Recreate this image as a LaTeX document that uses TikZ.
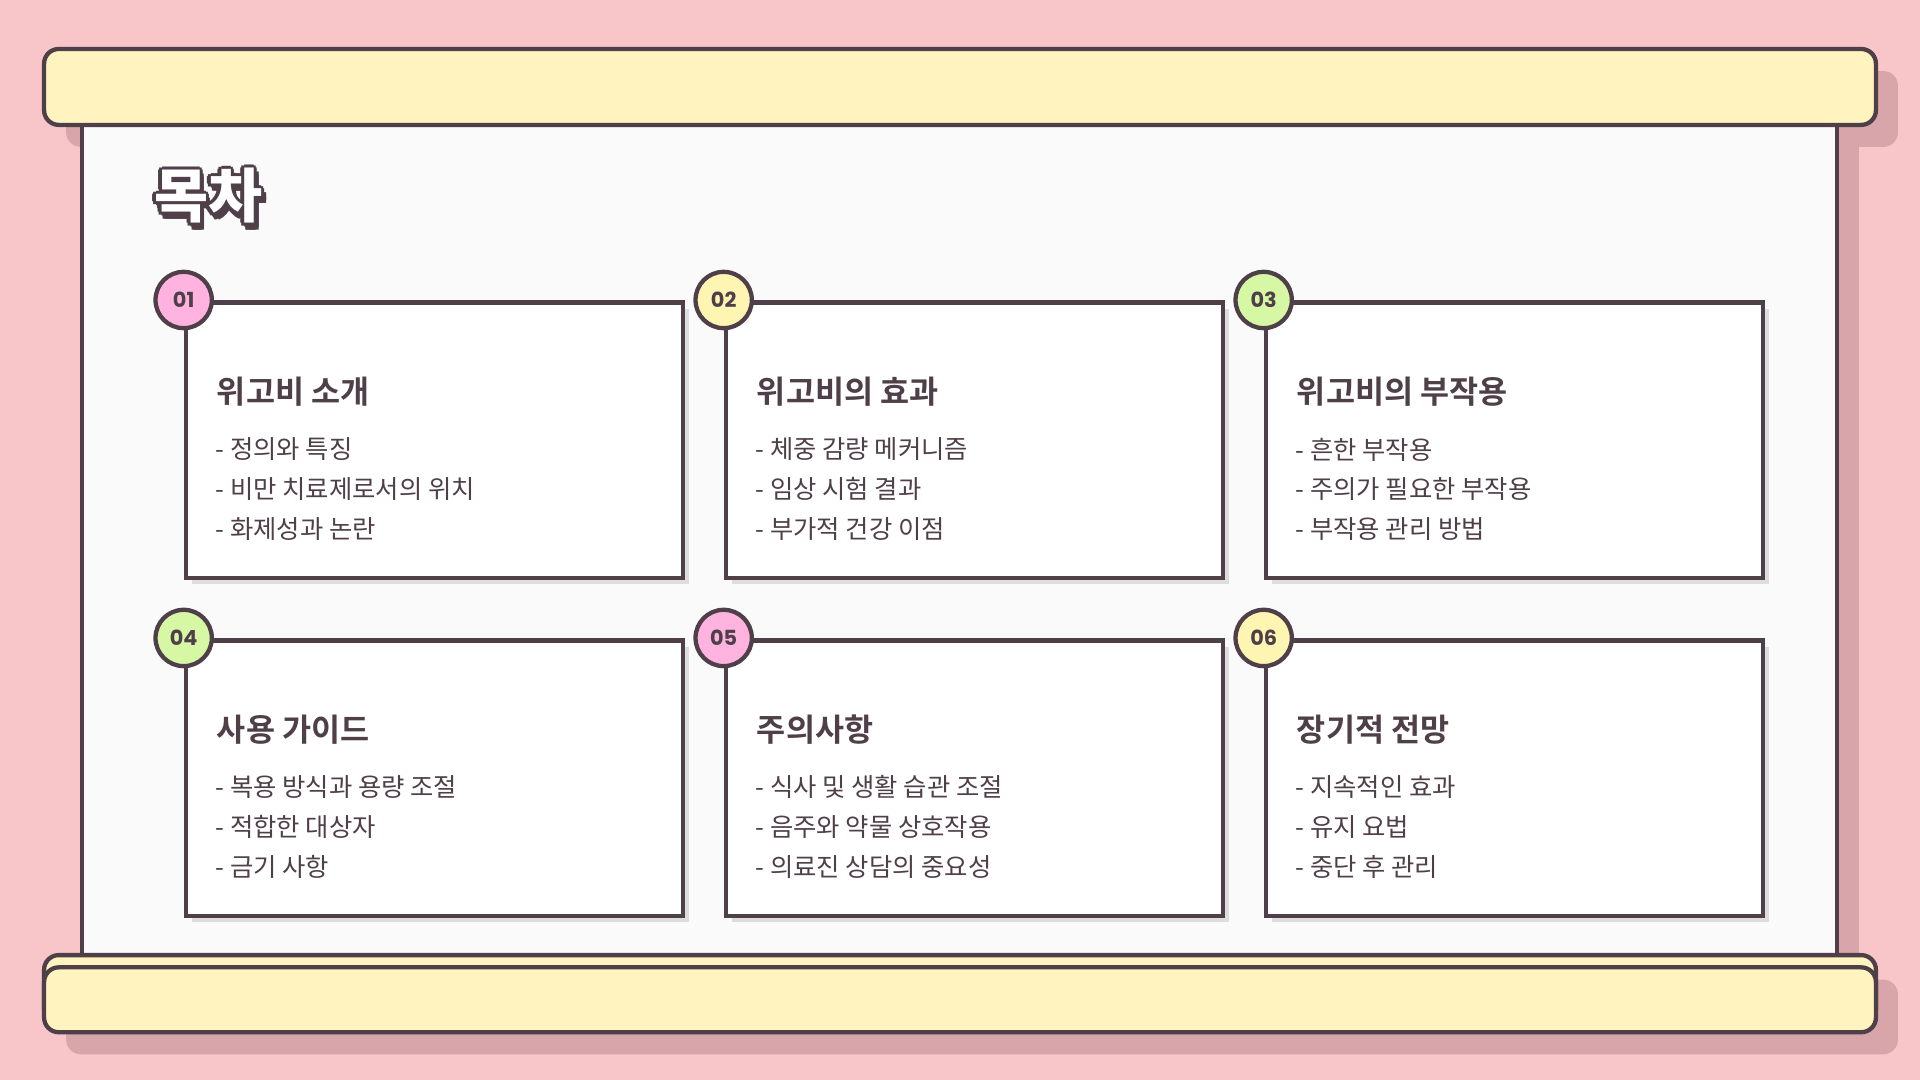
\documentclass[tikz,border=0pt]{standalone}
\usepackage{fontspec}
\setmainfont{Noto Sans CJK KR}
\newfontfamily\kblack{Noto Sans CJK KR Black}
\newfontfamily\kbold{Noto Sans CJK KR Bold}
\newfontfamily\badgefont{Poppins Bold}
\definecolor{bg}{HTML}{F8C6C8}
\definecolor{ink}{HTML}{4E3F48}
\definecolor{shd}{HTML}{D8A6AA}
\definecolor{paper}{HTML}{FAFAFA}
\definecolor{bar}{HTML}{FFF3C0}
\definecolor{bpink}{HTML}{FFB3DE}
\definecolor{bgreen}{HTML}{D6F7A3}
\definecolor{byel}{HTML}{FFF5B3}
\definecolor{cshd}{HTML}{DDDDDD}
\tikzset{
 barbox/.style={draw=ink,line width=3.5pt,fill=bar,rounded corners=12pt},
 card/.style={draw=ink,line width=3.5pt,fill=white},
 badge/.style={circle,draw=ink,line width=3.5pt,minimum size=46pt,inner sep=0pt,font=\badgefont\fontsize{17}{17}\selectfont,text=ink},
 head/.style={anchor=west,font=\kbold\fontsize{25.8}{26}\selectfont,text=ink,inner sep=0},
 item/.style={anchor=west,font=\fontsize{20.7}{33}\selectfont,text=ink,inner sep=0,align=left},
 ttl/.style={font=\kblack\fontsize{48}{48}\selectfont},
}
\begin{document}
\begin{tikzpicture}[x=1pt,y=-1pt]
\fill[bg] (0,0) rectangle (1568,882);
\useasboundingbox (0,0) rectangle (1568,882);
% shadows
\fill[shd] (85,113) rectangle (1518,808);
\fill[shd,rounded corners=12pt] (54,58) rectangle (1550,120);
\fill[shd,rounded corners=12pt] (54,800) rectangle (1550,861);
% paper
\draw[fill=paper,draw=ink,line width=3.5pt] (67,95) rectangle (1500,790);
% bars
\draw[barbox] (36,40) rectangle (1532,102);
\draw[barbox] (36,780) rectangle (1532,836);
\draw[barbox] (36,790) rectangle (1532,843);
% title
\foreach \dx/\dy in {-3/0,3/0,0/-3,0/3,-2/-2,2/2,-2/2,2/-2,3/4,2/5,4/5,1/5,4/3}
  \node[text=ink,ttl] at (170+\dx,160+\dy) {목차};
\node (title)[text=white,ttl] at (170,160) {목차};
% cards
\foreach \i/\x/\y/\bc/\num/\h/\a/\b/\c in {
 1/152/247/bpink/01/위고비 소개/정의와 특징/비만 치료제로서의 위치/화제성과 논란,
 2/593/247/byel/02/위고비의 효과/체중 감량 메커니즘/임상 시험 결과/부가적 건강 이점,
 3/1034/247/bgreen/03/위고비의 부작용/흔한 부작용/주의가 필요한 부작용/부작용 관리 방법,
 4/152/523/bgreen/04/사용 가이드/복용 방식과 용량 조절/적합한 대상자/금기 사항,
 5/593/523/bpink/05/주의사항/식사 및 생활 습관 조절/음주와 약물 상호작용/의료진 상담의 중요성,
 6/1034/523/byel/06/장기적 전망/지속적인 효과/유지 요법/중단 후 관리}{
  \fill[cshd] (\x+5,\y+5) rectangle (\x+411,\y+230);
  \draw[card] (\x,\y) rectangle (\x+406,\y+225);
  \node[badge,fill=\bc] (b\i) at (\x-2,\y-2) {\num};
  \node[head] (h\i) at (\x+25,\y+73) {\h};
  \node[item] (i\i a) at (\x+24,\y+120) {- \a};
  \node[item] (i\i b) at (\x+24,\y+152.5) {- \b};
  \node[item] (i\i c) at (\x+24,\y+185) {- \c};
}
\end{tikzpicture}
\end{document}
